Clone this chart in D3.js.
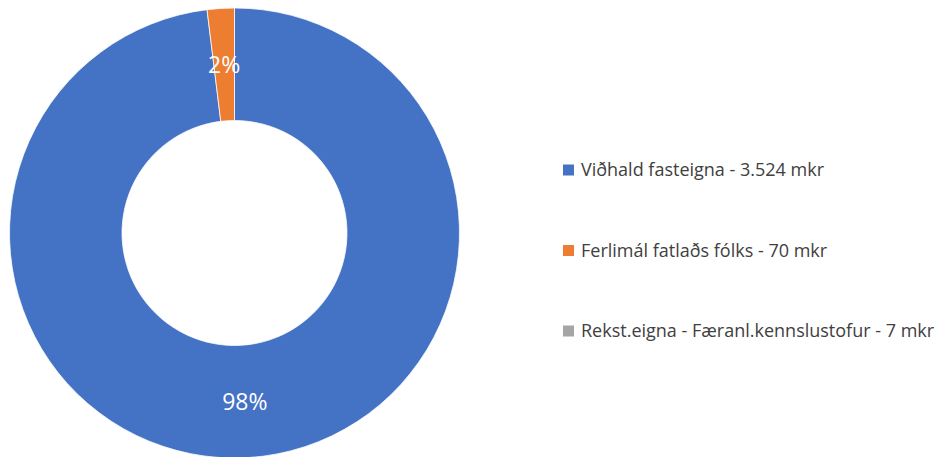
<!DOCTYPE html>
<html>
<head>
<meta charset="utf-8">
<script src="https://cdn.jsdelivr.net/npm/d3@7"></script>
<style>
  body { margin: 0; background: #fff; }
  svg { display: block; }
  .legend text { font-family: "Open Sans", "Noto Sans", sans-serif; fill: #404040; }
  .slice-label { font-family: "Open Sans", "Noto Sans", sans-serif; fill: #fff; }
</style>
</head>
<body>
<div id="chart"></div>
<script>
// Data
const categories = ['Viðhald fasteigna', 'Ferlimál fatlaðs fólks', 'Rekst.eigna - Færanl.kennslustofur'];
const legendLabels = ['Viðhald fasteigna - 3.524 mkr', 'Ferlimál fatlaðs fólks - 70 mkr', 'Rekst.eigna - Færanl.kennslustofur - 7 mkr'];
// values plotted in the ring: the grey series draws no visible slice in the reference
const values = [3524, 70, 0];
const sliceColors = ['#4472C4', '#ED7D31', '#A5A5A5'];

const W = 943, H = 457;
const cx = 234.5, cy = 233;
const outerR = 225, innerR = 112.5;

const svg = d3.select('#chart')
    .append('svg')
    .attr('width', W)
    .attr('height', H);

const data = categories.map((c, i) => ({ name: c, value: values[i], color: sliceColors[i], legend: legendLabels[i] }));
const total = d3.sum(values);

const pie = d3.pie()
    .value(d => d.value)
    .sort(null);

const arc = d3.arc()
    .innerRadius(innerR)
    .outerRadius(outerR);

const labelArc = d3.arc()
    .innerRadius((innerR + outerR) / 2)
    .outerRadius((innerR + outerR) / 2);

const g = svg.append('g')
    .attr('transform', `translate(${cx},${cy})`);

const arcs = pie(data).filter(d => d.data.value > 0);

g.selectAll('path.slice')
    .data(arcs)
    .enter()
    .append('path')
    .attr('class', 'slice')
    .attr('d', arc)
    .attr('fill', d => d.data.color)
    .attr('stroke', '#fff')
    .attr('stroke-width', 0.75);

// Percentage labels
g.selectAll('text.slice-label')
    .data(arcs.filter(d => Math.round(d.data.value / total * 100) > 0))
    .enter()
    .append('text')
    .attr('class', 'slice-label')
    .attr('transform', d => `translate(${labelArc.centroid(d)})`)
    .attr('text-anchor', 'middle')
    .attr('dy', '0.36em')
    .style('font-size', '23px')
    .text(d => Math.round(d.data.value / total * 100) + '%');

// Legend
const legend = svg.append('g')
    .attr('class', 'legend')
    .attr('transform', 'translate(563, 170)');

const item = legend.selectAll('g.legend-item')
    .data(data)
    .enter()
    .append('g')
    .attr('class', 'legend-item')
    .attr('transform', (d, i) => `translate(0, ${i * 80.5})`);

item.append('rect')
    .attr('x', 0)
    .attr('y', -5.5)
    .attr('width', 11)
    .attr('height', 11)
    .attr('fill', d => d.color);

item.append('text')
    .attr('x', 18)
    .attr('y', 0)
    .attr('dy', '0.35em')
    .style('font-size', '18px')
    .text(d => d.legend);
</script>
</body>
</html>
